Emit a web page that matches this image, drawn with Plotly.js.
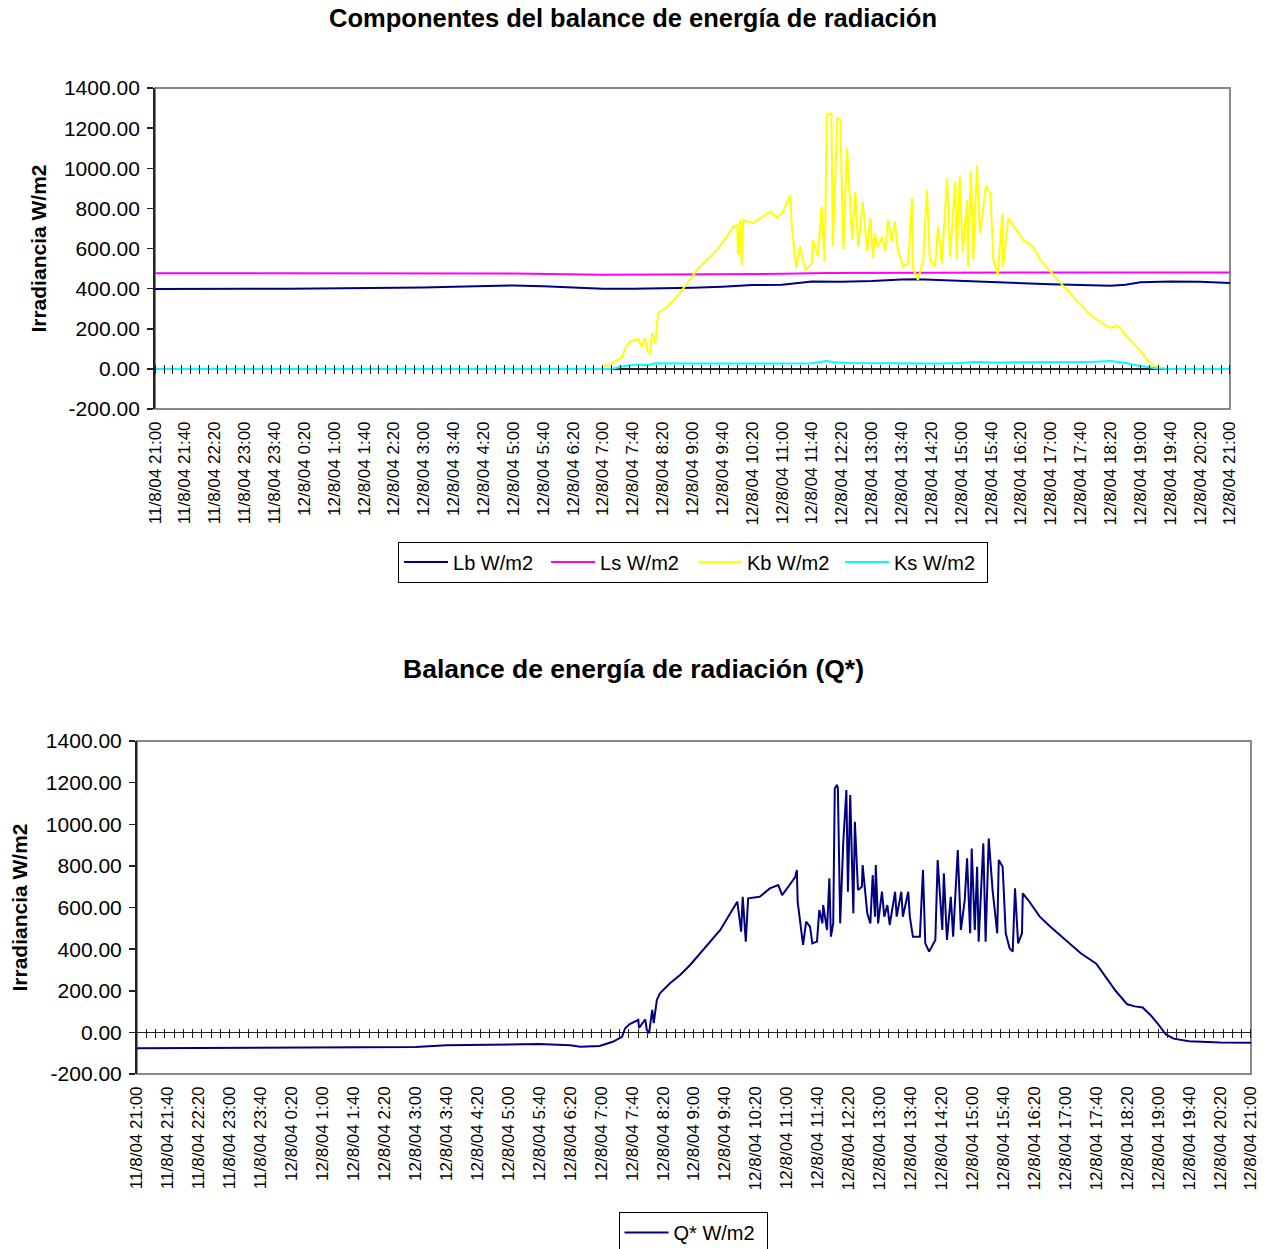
<!DOCTYPE html>
<html>
<head>
<meta charset="utf-8">
<script src="https://cdn.plot.ly/plotly-3.0.1.min.js"></script>
<style>
html,body{margin:0;padding:0;background:#fff;overflow:hidden;}
#chart{width:1273px;height:1249px;}
</style>
</head>
<body>
<div id="chart"></div>
<script>
// ---------- DATA (day-of-month + clock time, values in W/m2) ----------
const lbTimes = ["11 21:00","11 22:00","11 23:00","12 00:00","12 01:00","12 02:00","12 03:00","12 03:40","12 04:20","12 05:00","12 05:40","12 06:20","12 07:00","12 07:40","12 08:20","12 09:00","12 09:40","12 10:20","12 11:00","12 11:20","12 11:40","12 12:20","12 13:00","12 13:40","12 14:00","12 14:20","12 15:00","12 15:40","12 16:20","12 17:00","12 17:40","12 18:20","12 18:40","12 19:00","12 19:40","12 20:20","12 21:00"];
const lbValues = [398,400,399,400,401,403,406,410,412,416,412,405,400,400,401,405,410,418,420,428,436,435,438,446,447,444,438,432,428,422,418,414,420,432,436,435,428];

const lsTimes = ["11 21:00","12 00:00","12 03:00","12 05:00","12 07:00","12 09:00","12 11:00","12 12:00","12 14:00","12 17:00","12 19:00","12 21:00"];
const lsValues = [477,476,476,475,470,471,474,478,480,481,480,480];

const kbTimes = ["11 21:00","12 06:29","12 06:56","12 07:14","12 07:26","12 07:30","12 07:36","12 07:47","12 07:52","12 07:56","12 08:00","12 08:03","12 08:06","12 08:10","12 08:14","12 08:26","12 08:39","12 08:53","12 09:06","12 09:19","12 09:33","12 09:46","12 09:54","12 10:00","12 10:01","12 10:04","12 10:06","12 10:08","12 10:21","12 10:34","12 10:44","12 10:53","12 11:01","12 11:11","12 11:13","12 11:19","12 11:24","12 11:31","12 11:40","12 11:41","12 11:48","12 11:53","12 11:57","12 12:00","12 12:06","12 12:08","12 12:14","12 12:18","12 12:22","12 12:27","12 12:34","12 12:38","12 12:42","12 12:48","12 12:54","12 12:58","12 13:02","12 13:04","12 13:08","12 13:14","12 13:18","12 13:22","12 13:27","12 13:31","12 13:35","12 13:42","12 13:49","12 13:54","12 13:55","12 14:02","12 14:09","12 14:14","12 14:18","12 14:25","12 14:29","12 14:34","12 14:41","12 14:45","12 14:52","12 14:54","12 14:58","12 15:02","12 15:08","12 15:09","12 15:13","12 15:16","12 15:21","12 15:25","12 15:31","12 15:33","12 15:39","12 15:43","12 15:49","12 15:55","12 15:56","12 16:03","12 16:09","12 16:23","12 16:36","12 16:46","12 16:55","12 17:05","12 17:15","12 17:25","12 17:40","12 17:50","12 18:00","12 18:10","12 18:20","12 18:30","12 18:40","12 18:50","12 19:00","12 19:10","12 19:20","12 19:30","12 19:40","12 21:00"];
const kbValues = [0,0,2,30,61,104,136,148,111,154,86,80,179,129,279,310,360,427,493,543,593,659,709,718,568,743,518,743,727,759,784,753,784,867,709,502,610,493,527,643,560,809,535,1266,1274,610,1249,1241,593,1100,643,884,610,834,585,751,552,676,610,659,585,743,634,734,593,510,527,851,502,444,543,892,543,510,709,527,950,560,934,543,959,577,842,510,984,543,1017,676,842,909,876,543,469,776,510,751,718,643,610,543,505,460,420,380,320,280,250,225,205,215,170,130,90,40,12,3,0,0];

const ksTimes = ["11 21:00","12 07:10","12 07:30","12 07:45","12 08:00","12 08:10","12 09:00","12 10:00","12 11:00","12 11:40","12 12:00","12 12:10","12 12:30","12 13:30","12 14:30","12 15:00","12 15:20","12 15:40","12 16:20","12 17:00","12 17:40","12 18:00","12 18:20","12 18:40","12 19:00","12 19:20","12 19:40","12 21:00"];
const ksValues = [0,0,15,22,18,28,27,28,30,28,40,33,30,28,27,30,36,32,33,33,33,36,40,30,15,3,0,0];

const qTimes = ["11 21:00","11 23:00","12 01:00","12 03:00","12 03:40","12 05:00","12 05:40","12 06:20","12 06:33","12 06:58","12 07:15","12 07:27","12 07:31","12 07:37","12 07:48","12 07:49","12 07:57","12 07:59","12 08:02","12 08:06","12 08:08","12 08:12","12 08:16","12 08:29","12 08:42","12 08:55","12 09:08","12 09:21","12 09:34","12 09:47","12 09:56","12 10:01","12 10:03","12 10:07","12 10:10","12 10:25","12 10:38","12 10:49","12 10:54","12 11:02","12 11:11","12 11:13","12 11:14","12 11:21","12 11:25","12 11:30","12 11:33","12 11:39","12 11:42","12 11:46","12 11:47","12 11:52","12 11:55","12 11:57","12 12:00","12 12:02","12 12:05","12 12:06","12 12:09","12 12:13","12 12:17","12 12:19","12 12:22","12 12:26","12 12:28","12 12:32","12 12:37","12 12:38","12 12:44","12 12:48","12 12:51","12 12:54","12 12:55","12 12:58","12 13:03","12 13:06","12 13:10","12 13:13","12 13:20","12 13:22","12 13:28","12 13:30","12 13:37","12 13:39","12 13:43","12 13:52","12 13:56","12 13:59","12 14:04","12 14:12","12 14:15","12 14:21","12 14:23","12 14:27","12 14:32","12 14:35","12 14:41","12 14:45","12 14:50","12 14:53","12 14:57","12 14:59","12 15:03","12 15:06","12 15:08","12 15:14","12 15:17","12 15:21","12 15:26","12 15:32","12 15:34","12 15:39","12 15:43","12 15:48","12 15:52","12 15:55","12 15:59","12 16:04","12 16:05","12 16:12","12 16:21","12 16:27","12 16:40","12 17:00","12 17:20","12 17:40","12 17:55","12 18:05","12 18:20","12 18:30","12 18:40","12 18:50","12 19:00","12 19:10","12 19:20","12 19:40","12 20:20","12 21:00"];
const qValues = [-76,-75,-74,-70,-62,-58,-56,-62,-69,-65,-45,-21,20,40,60,21,63,12,-4,108,45,156,188,236,276,324,380,436,492,572,628,484,652,436,644,652,692,708,660,700,748,780,628,420,532,508,428,436,588,524,612,492,740,460,524,1173,1189,1174,524,916,1165,676,1141,572,1012,684,700,804,572,524,756,556,804,524,676,556,612,516,676,556,676,556,676,556,460,460,780,428,388,444,828,492,764,444,652,460,876,492,636,836,476,884,492,796,436,908,436,932,684,476,828,796,476,404,388,692,428,476,668,636,588,556,510,444,380,330,250,200,135,125,120,84,40,-10,-30,-42,-48,-50];

const yTickVals = [-200,0,200,400,600,800,1000,1200,1400];
const yTickText = ["-200.00","0.00","200.00","400.00","600.00","800.00","1000.00","1200.00","1400.00"];
const xTickFormat = "%-d/%-m/%y %-H:%M";

// ---------- helpers ----------
const toDate = s => "2004-08-" + s;
const X0 = toDate("11 21:00"), X1 = toDate("12 21:00");

const fontFam = "Liberation Sans, Arial, sans-serif";
const axisColor = "#222222";
const frameColor = "#888888";
const H = 1249;

function line(times, vals, name, color, xa, ya, legend) {
  return {type: "scatter", mode: "lines", x: times.map(toDate), y: vals, name: name,
    xaxis: xa, yaxis: ya, legend: legend, line: {color: color, width: 2}, hoverinfo: "skip"};
}

const data = [
  line(lbTimes, lbValues, "Lb W/m2", "#000080", "x", "y", "legend"),
  line(lsTimes, lsValues, "Ls W/m2", "#FF00FF", "x", "y", "legend"),
  line(kbTimes, kbValues, "Kb W/m2", "#FFFF00", "x", "y", "legend"),
  line(ksTimes, ksValues, "Ks W/m2", "#00FFFF", "x3", "y", "legend"),
  line(qTimes, qValues, "Q* W/m2", "#000080", "x2", "y2", "legend2"),
  // empty placeholder so the zero-line tick axis of the lower chart is built
  {type: "scatter", mode: "lines", x: [], y: [], xaxis: "x4", yaxis: "y2", showlegend: false, hoverinfo: "skip"}
];

// domains (paper fractions)
const topX = [0.1218, 0.9662], topY = [0.6725, 0.9295];
const botX = [0.1076, 0.9827], botY = [0.1401, 0.4067];
const zeroFrac = 200 / 1600;
const half = 4.5 / H;

function mainX(dom, anchor) {
  return {domain: dom, anchor: anchor, type: "date", range: [X0, X1], tick0: X0, dtick: 40*60*1000,
    tickformat: xTickFormat, tickangle: -90, ticks: "", showgrid: false, zeroline: false,
    showline: false, ticklabelstandoff: 8,
    tickfont: {family: fontFam, size: 17, color: "#000"}};
}
function crossX(overlay, dom, ydom) {
  return {overlaying: overlay, domain: dom, anchor: "free",
    position: ydom[0] + zeroFrac*(ydom[1]-ydom[0]) + half, side: "bottom", type: "date", range: [X0, X1],
    tick0: X0, dtick: 12*60*1000, ticks: "outside", ticklen: 9, tickwidth: 1, tickcolor: axisColor,
    showticklabels: false, showgrid: false, zeroline: false, showline: false};
}
function mainY(dom, anchor) {
  return {domain: dom, anchor: anchor, range: [-200, 1400], tickmode: "array", tickvals: yTickVals, ticktext: yTickText,
    ticks: "outside", ticklen: 6, tickcolor: axisColor, tickwidth: 1.5, showgrid: false,
    zeroline: true, zerolinecolor: axisColor, zerolinewidth: 1.5,
    showline: true, linecolor: axisColor, linewidth: 2, ticklabelstandoff: 3,
    tickfont: {family: fontFam, size: 21, color: "#000"},
    title: {text: "Irradiancia W/m2", standoff: 12, font: {family: fontFam, size: 21, color: "#000", weight: "bold"}}};
}

const legendBase = {orientation: "h", xanchor: "center", yanchor: "middle", x: 0.5444,
  bordercolor: "#000", borderwidth: 1, bgcolor: "#fff", itemwidth: 44, entrywidth: 88, entrywidthmode: "pixels",
  font: {family: fontFam, size: 20, color: "#000"}};

const layout = {
  width: 1273, height: H,
  margin: {l: 0, r: 0, t: 0, b: 0, autoexpand: false},
  paper_bgcolor: "#ffffff", plot_bgcolor: "#ffffff",
  font: {family: fontFam, color: "#000"},
  title: {text: "<b>Componentes del balance de energía de radiación</b>", x: 0.4973, xanchor: "center",
          y: (H - 18) / H, yanchor: "middle", xref: "paper", yref: "paper",
          font: {family: fontFam, size: 25.5, color: "#000"}},
  xaxis: mainX(topX, "y"),
  yaxis: mainY(topY, "x"),
  xaxis2: mainX(botX, "y2"),
  yaxis2: mainY(botY, "x2"),
  xaxis3: crossX("x", topX, topY),
  xaxis4: crossX("x2", botX, botY),
  shapes: [
    {type: "rect", xref: "x domain", yref: "y domain", x0: 0, x1: 1, y0: 0, y1: 1, layer: "below",
     line: {color: frameColor, width: 2}},
    {type: "rect", xref: "x2 domain", yref: "y2 domain", x0: 0, x1: 1, y0: 0, y1: 1, layer: "below",
     line: {color: frameColor, width: 2}}
  ],
  annotations: [
    {text: "<b>Balance de energía de radiación (Q*)</b>", xref: "paper", yref: "paper", x: 0.4973, y: (H - 669) / H,
     xanchor: "center", yanchor: "middle", showarrow: false, font: {family: fontFam, size: 26.5, color: "#000"}}
  ],
  legend: Object.assign({}, legendBase, {y: (H - 562) / H}),
  legend2: Object.assign({}, legendBase, {y: (H - 1232.5) / H}),
  showlegend: true
};

Plotly.newPlot("chart", data, layout, {displayModeBar: false, staticPlot: true});
</script>
</body>
</html>
